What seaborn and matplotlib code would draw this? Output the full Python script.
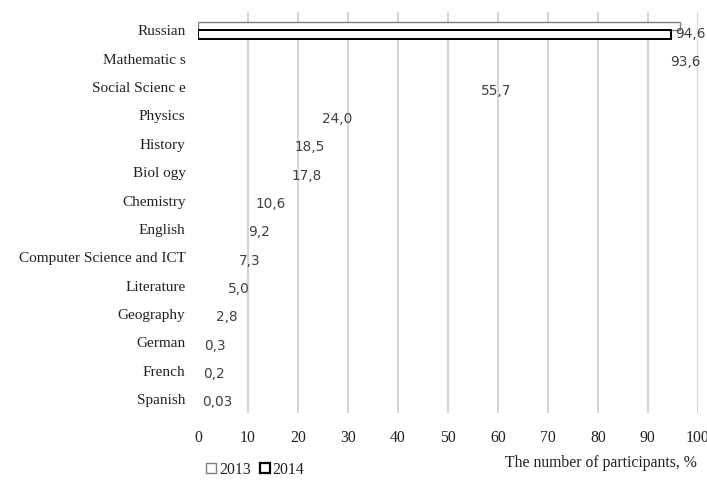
import pandas as pd
import seaborn as sns
from matplotlib import pyplot as plt
from matplotlib.patches import Patch

# subjects, top to bottom
subjects = ["Russian", "Mathematic s", "Social Scienc e", "Physics", "History",
            "Biol ogy", "Chemistry", "English", "Computer Science and ICT",
            "Literature", "Geography", "German", "French", "Spanish"]
# value labels shown next to each subject (2014, %)
label_values = [94.6, 93.6, 55.7, 24.0, 18.5, 17.8, 10.6, 9.2, 7.3, 5.0,
                2.8, 0.3, 0.2, 0.03]
label_text = ["94,6", "93,6", "55,7", "24,0", "18,5", "17,8", "10,6", "9,2",
              "7,3", "5,0", "2,8", "0,3", "0,2", "0,03"]
# only the Russian bars are drawn in the original figure
bar_subjects = ["Russian", "Russian"]
bar_years = ["2013", "2014"]
bar_values = [96.4, 94.6]

sns.set_style("white")
plt.rcParams["font.family"] = ["Liberation Serif", "DejaVu Serif"]

bars = pd.DataFrame({"subject": bar_subjects, "year": bar_years,
                     "value": bar_values})

fig = plt.figure(figsize=(7.07, 4.82), dpi=100)
ax = fig.add_axes([0.280, 0.143, 0.707, 0.832])

sns.barplot(data=bars, y="subject", x="value", hue="year", order=subjects,
            hue_order=["2013", "2014"], orient="h", width=0.6,
            palette=["white", "white"], legend=False, ax=ax)
edges = {"2013": ("#7f7f7f", 1.0), "2014": ("black", 1.4)}
for cont, year in zip(ax.containers, ["2013", "2014"]):
    for p in cont:
        p.set_edgecolor(edges[year][0])
        p.set_linewidth(edges[year][1])
        p.set_zorder(3)

for i, (v, t) in enumerate(zip(label_values, label_text)):
    ax.text(v + 0.9, i + 0.12, t, ha="left", va="center", fontsize=9.8,
            color="#404040", family="DejaVu Sans", zorder=4)

ax.set_xlim(0, 100)
ax.set_ylim(13.5, -0.65)
ax.set_xticks(range(0, 101, 10))
for x in range(10, 101, 10):
    ax.axvline(x, color="#d0d0d0", lw=1.3, zorder=1)
for s in ax.spines.values():
    s.set_visible(False)
ax.tick_params(axis="x", length=0, pad=12, labelsize=11.3, colors="#202020")
ax.tick_params(axis="y", length=0, pad=9, labelsize=11.0, colors="#202020")
ax.set_ylabel("")
ax.set_xlabel("")
fig.text(0.986, 0.022, "The number of participants, %", ha="right",
         va="bottom", fontsize=11.3, color="#202020")

handles = [Patch(facecolor="white", edgecolor="#7f7f7f", lw=1.0),
           Patch(facecolor="white", edgecolor="black", lw=1.6)]
fig.legend(handles, ["2013", "2014"], loc="lower left",
           bbox_to_anchor=(0.272, -0.02), ncol=2, frameon=False,
           fontsize=11.3, handlelength=0.6, handleheight=0.6,
           handletextpad=0.2, columnspacing=0.6, labelcolor="#202020")

fig.savefig("out.png", dpi=100)
